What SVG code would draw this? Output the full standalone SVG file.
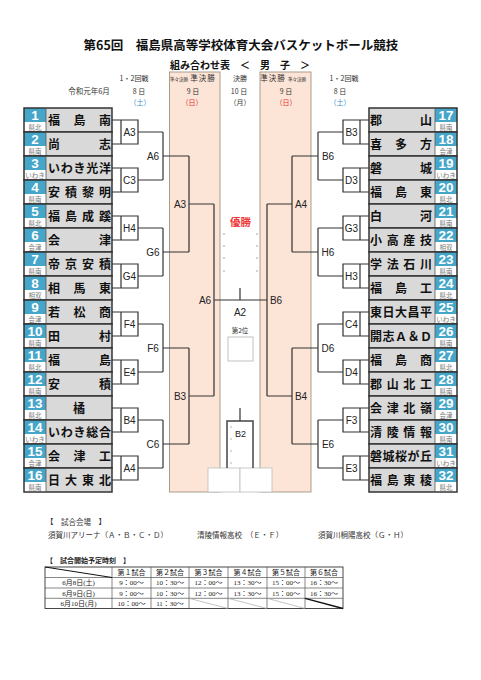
<svg xmlns="http://www.w3.org/2000/svg" xmlns:xlink="http://www.w3.org/1999/xlink" width="481" height="680" viewBox="0 0 481 680">
<style>
.j{font-family:"Noto Sans CJK JP",sans-serif}
.ttl{font:bold 12.5px "Noto Sans CJK JP",sans-serif;fill:#111;text-anchor:middle}
.sub{font:bold 10px "Noto Sans CJK JP",sans-serif;fill:#111;text-anchor:middle}
.hd{font:7px "Noto Sans CJK JP",sans-serif;fill:#333;text-anchor:middle}
.nm{font:bold 12px "Noto Sans CJK JP",sans-serif;fill:#111}
.num{font:bold 13.5px "Liberation Sans",sans-serif;fill:#fff;text-anchor:middle}
.rg{font:6.5px "Noto Sans CJK JP",sans-serif;fill:#777;text-anchor:middle}
.lb{font:10px "Liberation Sans",sans-serif;fill:#222;text-anchor:middle}
.ln{stroke:#333;stroke-width:1.2;fill:none}
.vn{font:7.5px "Noto Sans CJK JP",sans-serif;fill:#333}
.tb{font:7px "Liberation Serif","Noto Sans CJK JP",serif;fill:#222;text-anchor:middle}
.dot{fill:#9a9a9a}
</style>
<defs>
<g id="rowL"><rect x="24" y="0" width="88" height="24" fill="#d9d9d9"/><rect x="24" y="0" width="22" height="14" fill="#45a6c9"/><rect x="24" y="14" width="22" height="10" fill="#fff"/><rect x="24" y="0" width="88" height="24" fill="none" stroke="#333" stroke-width="1.5"/><line x1="46" y1="0" x2="46" y2="24" stroke="#555" stroke-width="0.8"/></g>
<g id="rowR"><rect x="369" y="0" width="88" height="24" fill="#d9d9d9"/><rect x="435" y="0" width="22" height="14" fill="#45a6c9"/><rect x="435" y="14" width="22" height="10" fill="#fff"/><rect x="369" y="0" width="88" height="24" fill="none" stroke="#333" stroke-width="1.5"/><line x1="435" y1="0" x2="435" y2="24" stroke="#555" stroke-width="0.8"/></g>
</defs>
<rect width="481" height="680" fill="#fff"/>
<text class="ttl" x="241" y="49.5">第65回　福島県高等学校体育大会バスケットボール競技</text>
<text class="sub" x="240" y="69">組み合わせ表　＜　男　子　＞</text>
<g id="bands">
<rect x="169.5" y="72" width="50.5" height="420" fill="#fce4d6" stroke="#a09484" stroke-width="0.9"/>
<rect x="260" y="72" width="51" height="420" fill="#fce4d6" stroke="#a09484" stroke-width="0.9"/>
</g>
<g id="header">
<text class="hd" x="134" y="81">1・2回戦</text>
<text class="hd" x="179" y="80.5" style="font-size:4.5px">準々決勝</text>
<text class="hd" x="203" y="81" style="font-size:7.5px;letter-spacing:1px">準決勝</text>
<text class="hd" x="240" y="81">決勝</text>
<text class="hd" x="273" y="81" style="font-size:7.5px;letter-spacing:1px">準決勝</text>
<text class="hd" x="297" y="80.5" style="font-size:4.5px">準々決勝</text>
<text class="hd" x="344" y="81">1・2回戦</text>
<text class="hd" x="89" y="93.5" style="font-size:7.5px">令和元年6月</text>
<text class="hd" x="139" y="93.5">8 日</text>
<text class="hd" x="193" y="93.5">9 日</text>
<text class="hd" x="239" y="93.5">10 日</text>
<text class="hd" x="286" y="93.5">9 日</text>
<text class="hd" x="340" y="93.5">8 日</text>
<text class="hd" x="140" y="104.5" style="fill:#3a8fd0">（土）</text>
<text class="hd" x="192" y="104.5" style="fill:#e03030">（日）</text>
<text class="hd" x="240" y="104.5">（月）</text>
<text class="hd" x="286" y="104.5" style="fill:#e03030">（日）</text>
<text class="hd" x="340" y="104.5" style="fill:#3a8fd0">（土）</text>
</g>
<g id="center">
<text x="240.5" y="226" style="font:bold 10.5px 'Noto Sans CJK JP',sans-serif;fill:#f03a3a;text-anchor:middle">優勝</text>
<circle class="dot" cx="224" cy="234" r="0.8"/><circle class="dot" cx="224" cy="246" r="0.8"/><circle class="dot" cx="224" cy="258" r="0.8"/><circle class="dot" cx="224" cy="271" r="0.8"/>
<circle class="dot" cx="257" cy="234" r="0.8"/><circle class="dot" cx="257" cy="246" r="0.8"/><circle class="dot" cx="257" cy="258" r="0.8"/><circle class="dot" cx="257" cy="271" r="0.8"/>
<text class="lb" x="240" y="316">A2</text>
<text class="hd" x="240" y="332.5" style="font-size:6.5px">第2位</text>
<rect x="228" y="337" width="25" height="24" fill="#fff" stroke="#bbb" stroke-width="0.9"/>
<rect x="208" y="468" width="32" height="24" fill="#fff" stroke="#c4c4c4" stroke-width="0.9"/>
<rect x="240" y="468" width="32" height="24" fill="#fff" stroke="#c4c4c4" stroke-width="0.9"/>
<path d="M227 468V421H253V468" fill="none" stroke="#444" stroke-width="1.5"/>
<path d="M240 408V421" class="ln"/>
<circle class="dot" cx="231" cy="427" r="0.7"/><circle class="dot" cx="231" cy="439" r="0.7"/><circle class="dot" cx="231" cy="451" r="0.7"/><circle class="dot" cx="231" cy="463" r="0.7"/>
<text class="lb" x="240.5" y="436.5" style="font-size:9px">B2</text>
</g>
<g id="connectors">
<path class="ln" d="M112 120H138V144H112M121 120V144M138 132H163 M112 168H138V192H112M121 168V192M138 180H163 M112 216H138V240H112M121 216V240M138 228H163 M112 264H138V288H112M121 264V288M138 276H163 M112 312H138V336H112M121 312V336M138 324H163 M112 360H138V384H112M121 360V384M138 372H163 M112 408H138V432H112M121 408V432M138 420H163 M112 456H138V480H112M121 456V480M138 468H163"/>
<path class="ln" d="M163 132V180M163 156H189 M163 228V276M163 252H189 M163 324V372M163 348H189 M163 420V468M163 444H189"/>
<path class="ln" d="M189 156V252M189 204H214 M189 348V444M189 396H214 M214 204V396M214 300H267 M240 288V300"/>
<path class="ln" d="M369 120H343V144H369M360 120V144M343 132H318 M369 168H343V192H369M360 168V192M343 180H318 M369 216H343V240H369M360 216V240M343 228H318 M369 264H343V288H369M360 264V288M343 276H318 M369 312H343V336H369M360 312V336M343 324H318 M369 360H343V384H369M360 360V384M343 372H318 M369 408H343V432H369M360 408V432M343 420H318 M369 456H343V480H369M360 456V480M343 468H318"/>
<path class="ln" d="M318 132V180M318 156H292 M318 228V276M318 252H292 M318 324V372M318 348H292 M318 420V468M318 444H292"/>
<path class="ln" d="M292 156V252M292 204H267 M292 348V444M292 396H267 M267 204V396"/>
</g>
<g id="labels">
<text class="lb" x="129.5" y="135.6">A3</text><text class="lb" x="129.5" y="183.6">C3</text><text class="lb" x="129.5" y="231.6">H4</text><text class="lb" x="129.5" y="279.6">G4</text><text class="lb" x="129.5" y="327.6">F4</text><text class="lb" x="129.5" y="375.6">E4</text><text class="lb" x="129.5" y="423.6">B4</text><text class="lb" x="129.5" y="471.6">A4</text>
<text class="lb" x="153" y="159.6">A6</text><text class="lb" x="153" y="255.6">G6</text><text class="lb" x="153" y="351.6">F6</text><text class="lb" x="153" y="447.6">C6</text>
<text class="lb" x="180" y="207.6">A3</text><text class="lb" x="180" y="399.6">B3</text>
<text class="lb" x="205" y="303.6">A6</text>
<text class="lb" x="351.5" y="135.6">B3</text><text class="lb" x="351.5" y="183.6">D3</text><text class="lb" x="351.5" y="231.6">G3</text><text class="lb" x="351.5" y="279.6">H3</text><text class="lb" x="351.5" y="327.6">C4</text><text class="lb" x="351.5" y="375.6">D4</text><text class="lb" x="351.5" y="423.6">F3</text><text class="lb" x="351.5" y="471.6">E3</text>
<text class="lb" x="328" y="159.6">B6</text><text class="lb" x="328" y="255.6">H6</text><text class="lb" x="328" y="351.6">D6</text><text class="lb" x="328" y="447.6">E6</text>
<text class="lb" x="301" y="207.6">A4</text><text class="lb" x="301" y="399.6">B4</text>
<text class="lb" x="276" y="303.6">B6</text>
</g>
<g id="t1"><use href="#rowL" y="108"/><text class="num" x="35" y="120">1</text><text class="rg" x="35" y="130">県北</text><text class="nm" x="48 73.5 99" y="124.5">福島南</text></g>
<g id="t2"><use href="#rowL" y="132"/><text class="num" x="35" y="144">2</text><text class="rg" x="35" y="154">県南</text><text class="nm" x="48 99" y="148.5">尚志</text></g>
<g id="t3"><use href="#rowL" y="156"/><text class="num" x="35" y="168">3</text><text class="rg" x="35" y="178">いわき</text><text class="nm" x="48 60.75 73.5 86.25 99" y="172.5">いわき光洋</text></g>
<g id="t4"><use href="#rowL" y="180"/><text class="num" x="35" y="192">4</text><text class="rg" x="35" y="202">県南</text><text class="nm" x="48 65 82 99" y="196.5">安積黎明</text></g>
<g id="t5"><use href="#rowL" y="204"/><text class="num" x="35" y="216">5</text><text class="rg" x="35" y="226">県北</text><text class="nm" x="48 65 82 99" y="220.5">福島成蹊</text></g>
<g id="t6"><use href="#rowL" y="228"/><text class="num" x="35" y="240">6</text><text class="rg" x="35" y="250">会津</text><text class="nm" x="48 99" y="244.5">会津</text></g>
<g id="t7"><use href="#rowL" y="252"/><text class="num" x="35" y="264">7</text><text class="rg" x="35" y="274">県南</text><text class="nm" x="48 65 82 99" y="268.5">帝京安積</text></g>
<g id="t8"><use href="#rowL" y="276"/><text class="num" x="35" y="288">8</text><text class="rg" x="35" y="298">相双</text><text class="nm" x="48 73.5 99" y="292.5">相馬東</text></g>
<g id="t9"><use href="#rowL" y="300"/><text class="num" x="35" y="312">9</text><text class="rg" x="35" y="322">会津</text><text class="nm" x="48 73.5 99" y="316.5">若松商</text></g>
<g id="t10"><use href="#rowL" y="324"/><text class="num" x="35" y="336">10</text><text class="rg" x="35" y="346">県南</text><text class="nm" x="48 99" y="340.5">田村</text></g>
<g id="t11"><use href="#rowL" y="348"/><text class="num" x="35" y="360">11</text><text class="rg" x="35" y="370">県北</text><text class="nm" x="48 99" y="364.5">福島</text></g>
<g id="t12"><use href="#rowL" y="372"/><text class="num" x="35" y="384">12</text><text class="rg" x="35" y="394">県南</text><text class="nm" x="48 99" y="388.5">安積</text></g>
<g id="t13"><use href="#rowL" y="396"/><text class="num" x="35" y="408">13</text><text class="rg" x="35" y="418">県北</text><text class="nm" x="73" y="412.5">橘</text></g>
<g id="t14"><use href="#rowL" y="420"/><text class="num" x="35" y="432">14</text><text class="rg" x="35" y="442">いわき</text><text class="nm" x="48 60.75 73.5 86.25 99" y="436.5">いわき総合</text></g>
<g id="t15"><use href="#rowL" y="444"/><text class="num" x="35" y="456">15</text><text class="rg" x="35" y="466">会津</text><text class="nm" x="48 73.5 99" y="460.5">会津工</text></g>
<g id="t16"><use href="#rowL" y="468"/><text class="num" x="35" y="480">16</text><text class="rg" x="35" y="490">県南</text><text class="nm" x="48 65 82 99" y="484.5">日大東北</text></g>
<g id="t17"><use href="#rowR" y="108"/><text class="num" x="446" y="120">17</text><text class="rg" x="446" y="130">県南</text><text class="nm" x="370 420" y="124.5">郡山</text></g>
<g id="t18"><use href="#rowR" y="132"/><text class="num" x="446" y="144">18</text><text class="rg" x="446" y="154">会津</text><text class="nm" x="370 395 420" y="148.5">喜多方</text></g>
<g id="t19"><use href="#rowR" y="156"/><text class="num" x="446" y="168">19</text><text class="rg" x="446" y="178">いわき</text><text class="nm" x="370 420" y="172.5">磐城</text></g>
<g id="t20"><use href="#rowR" y="180"/><text class="num" x="446" y="192">20</text><text class="rg" x="446" y="202">県北</text><text class="nm" x="370 395 420" y="196.5">福島東</text></g>
<g id="t21"><use href="#rowR" y="204"/><text class="num" x="446" y="216">21</text><text class="rg" x="446" y="226">県南</text><text class="nm" x="370 420" y="220.5">白河</text></g>
<g id="t22"><use href="#rowR" y="228"/><text class="num" x="446" y="240">22</text><text class="rg" x="446" y="250">相双</text><text class="nm" x="370 386.7 403.3 420" y="244.5">小高産技</text></g>
<g id="t23"><use href="#rowR" y="252"/><text class="num" x="446" y="264">23</text><text class="rg" x="446" y="274">県南</text><text class="nm" x="370 386.7 403.3 420" y="268.5">学法石川</text></g>
<g id="t24"><use href="#rowR" y="276"/><text class="num" x="446" y="288">24</text><text class="rg" x="446" y="298">県北</text><text class="nm" x="370 395 420" y="292.5">福島工</text></g>
<g id="t25"><use href="#rowR" y="300"/><text class="num" x="446" y="312">25</text><text class="rg" x="446" y="322">いわき</text><text class="nm" x="370 382.5 395 407.5 420" y="316.5">東日大昌平</text></g>
<g id="t26"><use href="#rowR" y="324"/><text class="num" x="446" y="336">26</text><text class="rg" x="446" y="346">県南</text><text class="nm" x="370 382.5 395 407.5 420" y="340.5">開志Ａ＆Ｄ</text></g>
<g id="t27"><use href="#rowR" y="348"/><text class="num" x="446" y="360">27</text><text class="rg" x="446" y="370">県北</text><text class="nm" x="370 395 420" y="364.5">福島商</text></g>
<g id="t28"><use href="#rowR" y="372"/><text class="num" x="446" y="384">28</text><text class="rg" x="446" y="394">県南</text><text class="nm" x="370 386.7 403.3 420" y="388.5">郡山北工</text></g>
<g id="t29"><use href="#rowR" y="396"/><text class="num" x="446" y="408">29</text><text class="rg" x="446" y="418">会津</text><text class="nm" x="370 386.7 403.3 420" y="412.5">会津北嶺</text></g>
<g id="t30"><use href="#rowR" y="420"/><text class="num" x="446" y="432">30</text><text class="rg" x="446" y="442">県南</text><text class="nm" x="370 386.7 403.3 420" y="436.5">清陵情報</text></g>
<g id="t31"><use href="#rowR" y="444"/><text class="num" x="446" y="456">31</text><text class="rg" x="446" y="466">いわき</text><text class="nm" x="370 382.5 395 407.5 420" y="460.5">磐城桜が丘</text></g>
<g id="t32"><use href="#rowR" y="468"/><text class="num" x="446" y="480">32</text><text class="rg" x="446" y="490">県北</text><text class="nm" x="370 386.7 403.3 420" y="484.5">福島東稜</text></g>
<g id="venues">
<text class="vn" x="46" y="524.5">【　試合会場　】</text>
<text class="vn" x="48" y="537.5">須賀川アリーナ（Ａ・Ｂ・Ｃ・Ｄ）</text>
<text class="vn" x="197" y="537.5">清陵情報高校　（Ｅ・Ｆ）</text>
<text class="vn" x="318" y="537.5">須賀川桐陽高校（Ｇ・Ｈ）</text>
</g>
<g id="schedule">
<text x="46" y="562.5" style="font:bold 7px 'Noto Sans CJK JP',sans-serif;fill:#222">【　試合開始予定時刻　】</text>
<rect x="45" y="567" width="298" height="41.5" fill="none" stroke="#333" stroke-width="0.9"/>
<path d="M45 577.5H343M45 588H343M45 598.3H343M112 567V608.5M151 567V608.5M189 567V608.5M228 567V608.5M267 567V608.5M305 567V608.5" stroke="#555" stroke-width="0.7" fill="none"/>
<path d="M45 567L112 577.5" stroke="#111" stroke-width="1"/>
<path d="M189 598.3L228 608.5M228 598.3L267 608.5M267 598.3L305 608.5" stroke="#aaa" stroke-width="0.7"/>
<path d="M305 598.3L343 608.5" stroke="#111" stroke-width="1.3"/>
<text class="tb" x="131.5" y="574.8">第１試合</text><text class="tb" x="170" y="574.8">第２試合</text><text class="tb" x="208.5" y="574.8">第３試合</text><text class="tb" x="247.5" y="574.8">第４試合</text><text class="tb" x="286" y="574.8">第５試合</text><text class="tb" x="324" y="574.8">第６試合</text>
<text class="tb" x="78.5" y="585.3">6月8日(土)</text>
<text class="tb" x="131.5" y="585.3">9：00～</text><text class="tb" x="170" y="585.3">10：30～</text><text class="tb" x="208.5" y="585.3">12：00～</text><text class="tb" x="247.5" y="585.3">13：30～</text><text class="tb" x="286" y="585.3">15：00～</text><text class="tb" x="324" y="585.3">16：30～</text>
<text class="tb" x="78.5" y="595.7">6月9日(日)</text>
<text class="tb" x="131.5" y="595.7">9：00～</text><text class="tb" x="170" y="595.7">10：30～</text><text class="tb" x="208.5" y="595.7">12：00～</text><text class="tb" x="247.5" y="595.7">13：30～</text><text class="tb" x="286" y="595.7">15：00～</text><text class="tb" x="324" y="595.7">16：30～</text>
<text class="tb" x="78.5" y="606">6月10日(月)</text>
<text class="tb" x="131.5" y="606">10：00～</text><text class="tb" x="170" y="606">11：30～</text>
</g>
</svg>
